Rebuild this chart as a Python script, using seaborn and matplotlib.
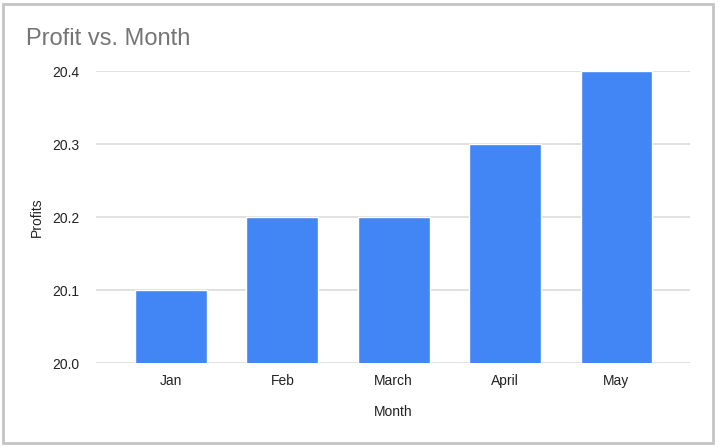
import pandas as pd
import matplotlib
matplotlib.use("Agg")
import matplotlib.pyplot as plt
from matplotlib.patches import Rectangle
import seaborn as sns

# --- Data ---
months = ["Jan", "Feb", "March", "April", "May"]
profits = [20.1, 20.2, 20.2, 20.3, 20.4]
y_ticks = [20.0, 20.1, 20.2, 20.3, 20.4]

BAR_COLOR = "#4285F4"
GRID_COLOR = "#dedede"
TEXT_COLOR = "#222222"

sns.set_theme(style="white")
plt.rcParams['font.family'] = ['Liberation Sans', 'DejaVu Sans']

df = pd.DataFrame({'Month': months, 'Profits': profits})

fig = plt.figure(figsize=(7.2, 4.47), dpi=100)
ax = fig.add_axes([0.1333, 0.1872, 0.825, 0.6533])

sns.barplot(data=df, x='Month', y='Profits', color=BAR_COLOR, width=0.645,
            saturation=1, ax=ax, zorder=3)

ax.set_ylim(20.0, 20.4)
ax.set_xlim(-0.673, 4.66)
ax.set_yticks(y_ticks)
ax.set_yticklabels([f"{v:.1f}" for v in y_ticks])

ax.grid(axis='y', color=GRID_COLOR, linewidth=1.3, zorder=0)
ax.grid(axis='x', visible=False)
for s in ax.spines.values():
    s.set_visible(False)
ax.tick_params(axis='both', length=0, labelsize=10, colors=TEXT_COLOR)
ax.tick_params(axis='x', pad=8)
ax.tick_params(axis='y', pad=12)

ax.set_xlabel('Month', fontsize=10, color=TEXT_COLOR, labelpad=12)
ax.set_ylabel('Profits', fontsize=10, color=TEXT_COLOR, labelpad=6)

fig.text(0.036, 0.9, 'Profit vs. Month', fontsize=17, color='#757575',
         ha='left', va='baseline')

# chart frame
fig.patches.append(Rectangle((0.004, 0.01), 0.986, 0.98, transform=fig.transFigure,
                             fill=False, edgecolor='#c4c4c4', linewidth=2))

fig.savefig('out.png', dpi=100)
